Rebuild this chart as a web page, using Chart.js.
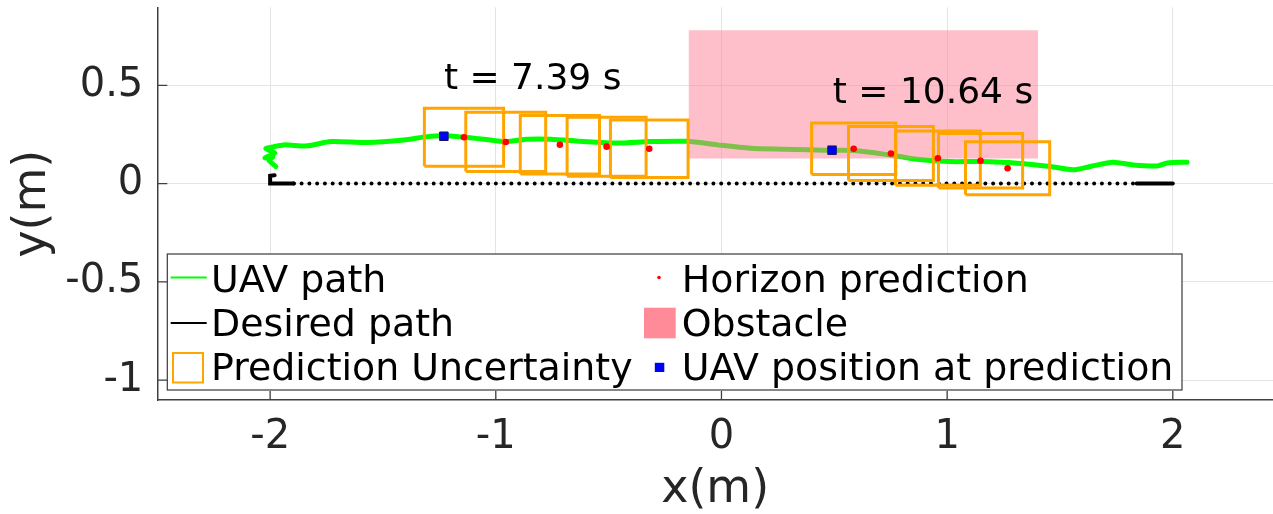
<!DOCTYPE html>
<html><head><meta charset="utf-8">
<script src="https://cdn.jsdelivr.net/npm/chart.js@4.4.1/dist/chart.umd.min.js"></script>
<style>html,body{margin:0;padding:0;background:#fff;overflow:hidden}#wrap{width:1273px;height:514px;position:relative}</style>
</head><body><div id="wrap"><canvas id="c" width="1273" height="514"></canvas></div>
<script>
// ---- data ----
const xTicks = [-2, -1, 0, 1, 2];
const xTickLabels = ['-2', '-1', '0', '1', '2'];
const yTicks = [-1, -0.5, 0, 0.5];
const yTickLabels = ['-1', '-0.5', '0', '0.5'];

const pathX = [-1.975,-2.006,-1.988,-2.023,-1.979,-2.019,-1.988,-1.940,-1.834,-1.731,-1.569,-1.408,-1.303,-1.232,-1.142,-1.054,-0.956,-0.860,-0.757,-0.611,-0.462,-0.314,-0.151,-0.019,0.128,0.275,0.490,0.586,0.748,0.867,1.014,1.147,1.309,1.457,1.559,1.634,1.736,1.824,1.931,1.975,2.063];
const pathY = [0.087,0.121,0.136,0.131,0.156,0.177,0.187,0.197,0.192,0.214,0.209,0.222,0.239,0.243,0.236,0.226,0.214,0.226,0.226,0.214,0.206,0.214,0.215,0.197,0.180,0.175,0.169,0.169,0.146,0.124,0.112,0.112,0.104,0.087,0.070,0.087,0.109,0.095,0.090,0.105,0.109];

const desiredX = [-1.98, -2.0, -2.0, -1.895, 1.84, 2.0];
const desiredY = [0.043, 0.04, 0, 0, 0, 0];

const predX1 = [-1.141, -0.956, -0.716, -0.509, -0.320];
const predY1 = [0.236, 0.212, 0.198, 0.188, 0.177];
const boxW1 = [0.351, 0.354, 0.351, 0.350, 0.344];
const boxH1 = [0.296, 0.301, 0.298, 0.300, 0.293];

const predX2 = [0.586, 0.751, 0.959, 1.148, 1.268];
const predY2 = [0.177, 0.153, 0.129, 0.116, 0.078];
const boxW2 = [0.373, 0.376, 0.376, 0.373, 0.373];
const boxH2 = [0.262, 0.274, 0.276, 0.277, 0.269];

const uavX = [-1.230, 0.490];
const uavY = [0.241, 0.170];

const obstacleX = [-0.146, 1.403];
const obstacleY = [0.128, 0.780];

const annX = [-1.23, 0.493];
const annY = [0.480, 0.409];
const annText = ['t = 7.39 s', 't = 10.64 s'];

// ---- build ----
const FONT = 'DejaVu Sans';
Chart.defaults.font.family = FONT;
const pts = (xs, ys) => xs.map((x, i) => ({x, y: ys[i]}));
const boxPts = (cx, cy, w, h) => [
  {x: cx - w/2, y: cy - h/2}, {x: cx + w/2, y: cy - h/2},
  {x: cx + w/2, y: cy + h/2}, {x: cx - w/2, y: cy + h/2}, {x: cx - w/2, y: cy - h/2}];

const datasets = [];
datasets.push({label: 'UAV path', data: pts(pathX, pathY), showLine: true, borderColor: '#00ff00',
  borderWidth: 5, pointRadius: 0, tension: 0.25, order: 6, borderCapStyle: 'round', borderJoinStyle: 'round'});
datasets.push({label: 'Desired path', data: pts(desiredX, desiredY), showLine: true, borderColor: '#000000',
  borderWidth: 4, pointRadius: 0, tension: 0, order: 7, borderCapStyle: 'round',
  segment: {borderDash: ctx => (ctx.p0DataIndex === 3 ? [0.01, 7.76] : [])}});
datasets.push({label: 'Obstacle', data: [{x: obstacleX[0], y: obstacleY[1]}, {x: obstacleX[1], y: obstacleY[1]}],
  showLine: true, borderColor: 'rgba(0,0,0,0)', pointRadius: 0, fill: '+1',
  backgroundColor: 'rgba(255,128,150,0.5)', order: 5});
datasets.push({label: 'ObstacleBase', data: [{x: obstacleX[0], y: obstacleY[0]}, {x: obstacleX[1], y: obstacleY[0]}],
  showLine: true, borderColor: 'rgba(0,0,0,0)', pointRadius: 0, fill: false, order: 5});
const addBoxes = (xs, ys, ws, hs) => xs.forEach((cx, i) => datasets.push({
  label: 'Prediction Uncertainty', data: boxPts(cx, ys[i], ws[i], hs[i]), showLine: true,
  borderColor: '#ffa500', borderWidth: 3, pointRadius: 0, tension: 0, order: 3, borderJoinStyle: 'miter'}));
addBoxes(predX1, predY1, boxW1, boxH1);
addBoxes(predX2, predY2, boxW2, boxH2);
datasets.push({label: 'Horizon prediction', data: pts(predX1.concat(predX2), predY1.concat(predY2)),
  showLine: false, pointRadius: 3.3, backgroundColor: '#ff0000', borderWidth: 0, order: 2});
datasets.push({label: 'UAV position at prediction', data: pts(uavX, uavY), showLine: false,
  pointStyle: 'rect', pointRadius: 6, backgroundColor: '#0000ff', borderColor: '#15155a', borderWidth: 1, order: 1});

const AXIS = '#404040';
const insideTicks = {
  id: 'insideTicks',
  afterDatasetsDraw(chart) {
    const {ctx, chartArea: a, scales: {x, y}} = chart;
    ctx.save(); ctx.strokeStyle = AXIS; ctx.lineWidth = 1.3; ctx.beginPath();
    xTicks.forEach(v => { const p = x.getPixelForValue(v); ctx.moveTo(p, a.bottom); ctx.lineTo(p, a.bottom - 9); });
    yTicks.forEach(v => { const p = y.getPixelForValue(v); ctx.moveTo(a.left, p); ctx.lineTo(a.left + 10, p); });
    ctx.stroke(); ctx.restore();
  }
};
const annotations = {
  id: 'annotations',
  afterDatasetsDraw(chart) {
    const {ctx, scales: {x, y}} = chart;
    ctx.save(); ctx.fillStyle = '#000'; ctx.font = '36px "' + FONT + '"';
    ctx.textAlign = 'left'; ctx.textBaseline = 'alphabetic';
    annText.forEach((t, i) => ctx.fillText(t, x.getPixelForValue(annX[i]), y.getPixelForValue(annY[i])));
    ctx.restore();
  }
};
const legendBox = {
  id: 'legendBox',
  afterDraw(chart) {
    const {ctx} = chart;
    const ds = chart.data.datasets;
    const find = l => ds.find(d => d.label === l);
    ctx.save();
    const L = 167.3, T = 254, R = 1182, B = 390;
    ctx.fillStyle = '#fff'; ctx.fillRect(L, T, R - L, B - T);
    ctx.strokeStyle = '#3a3a3a'; ctx.lineWidth = 1.2; ctx.strokeRect(L, T, R - L, B - T);
    const base = [291.7, 335.7, 380];
    const mid = [277.5, 323, 367.5];
    ctx.lineWidth = 2;
    ctx.strokeStyle = find('UAV path').borderColor;
    ctx.beginPath(); ctx.moveTo(170.7, mid[0]); ctx.lineTo(206.7, mid[0]); ctx.stroke();
    ctx.strokeStyle = find('Desired path').borderColor;
    ctx.beginPath(); ctx.moveTo(170.7, mid[1]); ctx.lineTo(206.7, mid[1]); ctx.stroke();
    ctx.strokeStyle = find('Prediction Uncertainty').borderColor;
    ctx.strokeRect(173, 353, 30, 29.5);
    ctx.fillStyle = find('Horizon prediction').backgroundColor;
    ctx.beginPath(); ctx.arc(659, mid[0], 1.8, 0, Math.PI * 2); ctx.fill();
    ctx.fillStyle = 'rgb(255,138,152)';
    ctx.fillRect(644, 307.7, 31.7, 30.6);
    ctx.fillStyle = find('UAV position at prediction').backgroundColor;
    ctx.fillRect(654.8, 362.8, 9.5, 9.2);
    ctx.fillStyle = '#000'; ctx.font = '37.9px "' + FONT + '"'; ctx.textAlign = 'left'; ctx.textBaseline = 'alphabetic';
    ['UAV path', 'Desired path', 'Prediction Uncertainty'].forEach((t, i) => ctx.fillText(t, 211, base[i]));
    ['Horizon prediction', 'Obstacle', 'UAV position at prediction'].forEach((t, i) => ctx.fillText(t, 681.8, base[i]));
    ctx.restore();
  }
};

new Chart(document.getElementById('c'), {
  type: 'scatter',
  data: {datasets},
  options: {
    responsive: false, animation: false, devicePixelRatio: 1,
    layout: {autoPadding: false, padding: {top: 7.3, left: 0, right: 0, bottom: 0}},
    plugins: {legend: {display: false}, tooltip: {enabled: false}},
    scales: {
      x: {type: 'linear', min: -2.5, max: 2.444,
        afterBuildTicks: s => { s.ticks = xTicks.map(v => ({value: v})); },
        afterFit: s => { s.height = 114; s.paddingLeft = 0; s.paddingRight = 0; s.paddingTop = 0; s.paddingBottom = 0; },
        ticks: {callback: v => xTickLabels[xTicks.indexOf(v)], font: {size: 40}, color: '#262626', padding: 14, maxRotation: 0, autoSkip: false},
        grid: {color: '#e4e4e4', lineWidth: 1, drawTicks: false},
        border: {display: true, color: AXIS, width: 1.5},
        title: {display: true, text: 'x(m)', font: {size: 46, lineHeight: 1}, color: '#262626', padding: {top: 0, bottom: 1}}},
      y: {type: 'linear', min: -1.101, max: 0.897,
        afterBuildTicks: s => { s.ticks = yTicks.map(v => ({value: v})); },
        afterFit: s => { s.width = 157.3; s.paddingLeft = 0; s.paddingRight = 0; s.paddingTop = 0; s.paddingBottom = 0; },
        ticks: {callback: v => yTickLabels[yTicks.indexOf(v)], font: {size: 40}, color: '#262626', padding: 14, autoSkip: false},
        grid: {color: '#e4e4e4', lineWidth: 1, drawTicks: false},
        border: {display: true, color: AXIS, width: 1.5},
        title: {display: true, text: 'y(m)', font: {size: 46, lineHeight: 1}, color: '#262626', padding: {top: 10.5, bottom: 0}}}
    }
  },
  plugins: [insideTicks, annotations, legendBox]
});
</script></body></html>
